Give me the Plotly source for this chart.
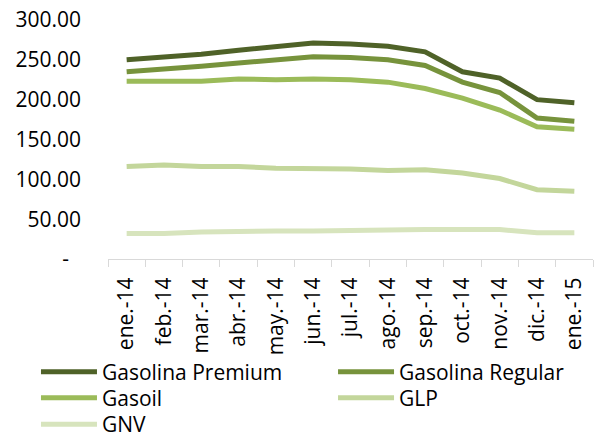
import plotly.graph_objects as go

months = ["ene.-14", "feb.-14", "mar.-14", "abr.-14", "may.-14", "jun.-14", "jul.-14",
          "ago.-14", "sep.-14", "oct.-14", "nov.-14", "dic.-14", "ene.-15"]

premium = [250, 253, 257, 262, 266, 271, 270, 267, 260, 235, 227, 200, 196]
regular = [235, 238, 242, 246, 250, 254, 253, 250, 243, 222, 209, 177, 173]
gasoil = [223, 223, 223, 226, 225, 226, 225, 222, 214, 202, 187, 166, 163]
glp = [116, 118, 116, 116, 114, 114, 113, 111, 112, 108, 101, 87, 85]
gnv = [32, 32, 34, 35, 35, 35, 36, 37, 37, 37, 37, 33, 33]

series_names = ["Gasolina Premium", "Gasolina Regular", "Gasoil", "GLP", "GNV"]
series_values = [premium, regular, gasoil, glp, gnv]
colors = ["#4F6228", "#77933C", "#9BBB59", "#C3D69B", "#D7E4BD"]

y_ticks = [0, 50, 100, 150, 200, 250, 300]
y_ticktext = ["-\u2007", "50.00", "100.00", "150.00", "200.00", "250.00", "300.00"]

# legend placement (paper coords): one legend box per entry, two columns
legend_x = [-0.1485, 0.464, -0.1485, 0.464, -0.1485]
legend_y = [-0.387, -0.387, -0.496, -0.496, -0.607]

font_family = "Open Sans, Noto Sans, sans-serif"

fig = go.Figure()
layout_legends = {}
for i, (name, vals, col) in enumerate(zip(series_names, series_values, colors)):
    lid = "legend" if i == 0 else f"legend{i + 1}"
    fig.add_trace(go.Scatter(x=months, y=vals, name=name, mode="lines",
                             line=dict(color=col, width=5), legend=lid))
    layout_legends[lid] = dict(x=legend_x[i], y=legend_y[i], orientation="v",
                               yanchor="top", xanchor="left",
                               font=dict(size=21, family=font_family), itemwidth=56,
                               bgcolor="rgba(0,0,0,0)")

fig.update_layout(
    width=602, height=434,
    margin=dict(l=100, r=17, t=12, b=183, autoexpand=False),
    paper_bgcolor="white", plot_bgcolor="white",
    font=dict(family=font_family, size=21, color="#000000"),
    showlegend=True,
    xaxis=dict(type="category", range=[-0.5, 12.5], showgrid=False, showline=True,
               linecolor="#D9D9D9", linewidth=1, ticks="outside", tickson="boundaries",
               tickcolor="#D9D9D9", ticklen=7, tickangle=-90, tickfont=dict(size=21),
               automargin=False, ticklabelstandoff=9, ticklabeloverflow="allow"),
    yaxis=dict(range=[0, 300], tickvals=y_ticks, ticktext=y_ticktext, showgrid=False,
               showline=False, zeroline=False, ticks="", tickfont=dict(size=21),
               automargin=False, ticklabelstandoff=26, ticklabeloverflow="allow"),
    **layout_legends,
)

fig.write_html("out.html")
